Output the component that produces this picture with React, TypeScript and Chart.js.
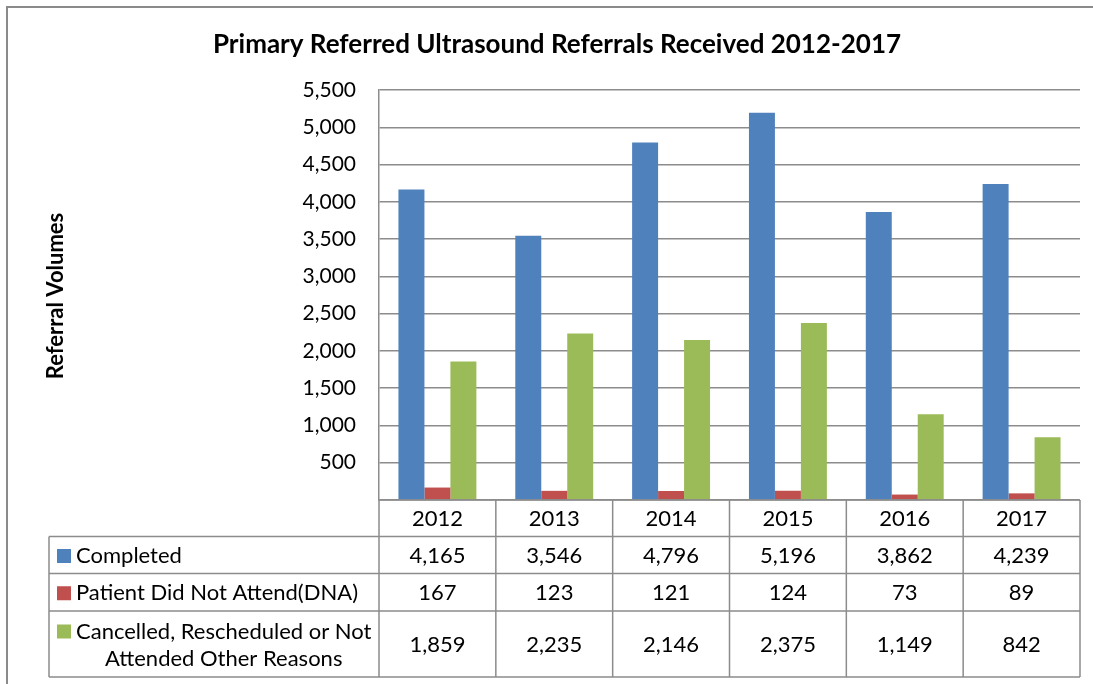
import React, { useEffect, useRef } from 'react';
import { Chart, registerables } from 'chart.js';

Chart.register(...registerables);

const years = ['2012', '2013', '2014', '2015', '2016', '2017'];
const completed = [4165, 3546, 4796, 5196, 3862, 4239];
const dna = [167, 123, 121, 124, 73, 89];
const cancelled = [1859, 2235, 2146, 2375, 1149, 842];
const seriesLabelLines = [
  ['Completed'],
  ['Patient Did Not Attend(DNA)'],
  ['Cancelled, Rescheduled or Not', 'Attended Other Reasons'],
];
const seriesColors = ['#4F81BD', '#C0504D', '#9BBB59'];
const chartTitle = 'Primary Referred Ultrasound Referrals Received 2012-2017';
const yAxisTitle = 'Referral Volumes';
const yMax = 5500;
const yStep = 500;

const FONT = 'Lato, "Open Sans", sans-serif';
const GRID = '#8c8c8c';

const fmt = (v: number) => v.toLocaleString('en-US');

const tablePlugin = {
  id: 'dataTable',
  afterDraw(chart: any) {
    const ctx = chart.ctx as CanvasRenderingContext2D;
    const area = chart.chartArea;
    const xs = chart.scales.x;
    const n = years.length;
    const colW = (area.right - area.left) / n;
    const tableLeft = 49;
    const rowLines = [area.bottom, 536.5, 573.5, 611, 677];
    const seriesData = [completed, dna, cancelled];

    ctx.save();
    // outer frame
    ctx.strokeStyle = '#8a8a8a';
    ctx.lineWidth = 2;
    ctx.beginPath();
    ctx.moveTo(7, 700);
    ctx.lineTo(7, 7);
    ctx.lineTo(1100, 7);
    ctx.stroke();

    // title
    ctx.fillStyle = '#000';
    ctx.font = `bold 26px ${FONT}`;
    ctx.textAlign = 'center';
    ctx.textBaseline = 'middle';
    ctx.fillText(chartTitle, 557, 45);

    // y-axis title
    ctx.save();
    ctx.translate(56, 296);
    ctx.rotate(-Math.PI / 2);
    ctx.font = `bold 22px ${FONT}`;
    ctx.fillText(yAxisTitle, 0, 0);
    ctx.restore();

    // table grid
    ctx.strokeStyle = GRID;
    ctx.lineWidth = 1.5;
    ctx.beginPath();
    ctx.moveTo(area.left, rowLines[0]);
    ctx.lineTo(area.right, rowLines[0]);
    for (let r = 1; r < rowLines.length; r++) {
      ctx.moveTo(tableLeft, rowLines[r]);
      ctx.lineTo(area.right, rowLines[r]);
    }
    for (let c = 0; c <= n; c++) {
      const x = area.left + c * colW;
      ctx.moveTo(x, rowLines[0]);
      ctx.lineTo(x, rowLines[rowLines.length - 1]);
    }
    ctx.moveTo(tableLeft, rowLines[1]);
    ctx.lineTo(tableLeft, rowLines[rowLines.length - 1]);
    ctx.stroke();

    // header
    ctx.font = `22px ${FONT}`;
    ctx.fillStyle = '#000';
    ctx.textAlign = 'center';
    ctx.textBaseline = 'middle';
    const headerY = (rowLines[0] + rowLines[1]) / 2 + 1;
    years.forEach((y, i) => {
      ctx.fillText(y, xs.getPixelForValue(i), headerY);
    });

    // rows
    for (let s = 0; s < 3; s++) {
      const top = rowLines[s + 1];
      const bottom = rowLines[s + 2];
      const cy = (top + bottom) / 2 + 1;
      ctx.textAlign = 'center';
      seriesData[s].forEach((v, i) => {
        ctx.fillText(fmt(v), xs.getPixelForValue(i), cy);
      });
      ctx.fillStyle = seriesColors[s];
      const lines = seriesLabelLines[s];
      const lineH = 27;
      const firstY = cy - ((lines.length - 1) * lineH) / 2;
      ctx.fillRect(57, firstY - 7, 14, 14);
      ctx.fillStyle = '#000';
      ctx.textAlign = 'left';
      ctx.fillText(lines[0], 76, firstY);
      const w0 = ctx.measureText(lines[0]).width;
      for (let l = 1; l < lines.length; l++) {
        ctx.textAlign = 'center';
        ctx.fillText(lines[l], 76 + w0 / 2, firstY + l * lineH);
      }
    }
    ctx.restore();
  },
};

export default function App() {
  const canvasRef = useRef<HTMLCanvasElement | null>(null);

  useEffect(() => {
    document.body.style.margin = '0';
    const canvas = canvasRef.current;
    if (!canvas) return;
    const chart = new Chart(canvas, {
      type: 'bar',
      data: {
        labels: years,
        datasets: [
          { label: seriesLabelLines[0].join(' '), data: completed, backgroundColor: seriesColors[0] },
          { label: seriesLabelLines[1].join(' '), data: dna, backgroundColor: seriesColors[1] },
          { label: seriesLabelLines[2].join(' '), data: cancelled, backgroundColor: seriesColors[2] },
        ],
      },
      options: {
        responsive: false,
        animation: false,
        devicePixelRatio: 1,
        layout: { padding: { left: 0, top: 90, right: 13, bottom: 184 } },
        plugins: {
          legend: { display: false },
          title: { display: false },
          tooltip: { enabled: false },
        },
        datasets: {
          bar: { categoryPercentage: 0.667, barPercentage: 1.0 },
        },
        scales: {
          x: { display: false },
          y: {
            min: 0,
            max: yMax,
            afterFit: (scale: any) => {
              scale.width = 379;
            },
            ticks: {
              stepSize: yStep,
              padding: 23,
              color: '#000',
              font: { family: FONT, size: 21 },
              callback: (v: any) => (Number(v) === 0 ? '' : fmt(Number(v))),
            },
            grid: { color: GRID, lineWidth: 1.5, drawTicks: false },
            border: { display: true, color: GRID, width: 1.5 },
          },
        },
      },
      plugins: [tablePlugin],
    });
    return () => chart.destroy();
  }, []);

  return (
    <div style={{ width: 1093, height: 684, background: '#fff' }}>
      <canvas ref={canvasRef} width={1093} height={684} style={{ display: 'block' }} />
    </div>
  );
}
